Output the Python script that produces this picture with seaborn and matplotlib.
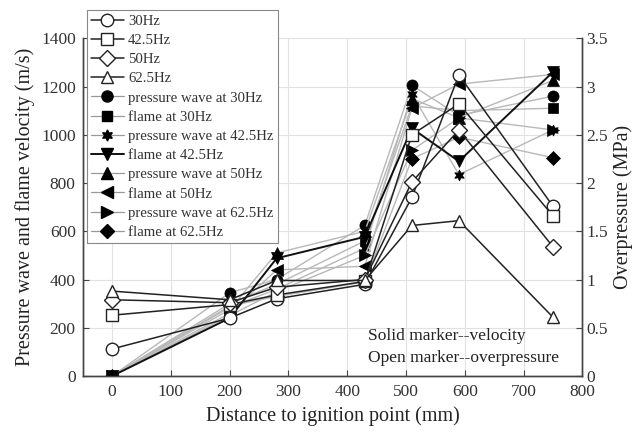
import seaborn as sns
import matplotlib.pyplot as plt
from matplotlib.lines import Line2D
from matplotlib.ticker import FormatStrFormatter

# distance to ignition point (mm)
distance = [0, 200, 280, 430, 510, 590, 750]

# overpressure (MPa) - open markers, right axis
op_30 = [0.28, 0.60, 0.80, 0.95, 1.85, 3.12, 1.76]
op_42 = [0.63, 0.74, 0.84, 0.98, 2.50, 2.82, 1.66]
op_50 = [0.79, 0.76, 0.92, 1.00, 2.01, 2.55, 1.34]
op_62 = [0.88, 0.79, 0.99, 0.99, 1.56, 1.61, 0.61]

# velocity (m/s) - solid markers, left axis
pw_30 = [0, 345, 400, 625, 1205, 1080, 1160]
fl_30 = [0, 300, 380, 560, 1120, 1100, 1110]
pw_42 = [0, 285, 360, 530, 1170, 835, 1020]
fl_42 = [0, 240, 488, 577, 1027, 890, 1260]
pw_50 = [0, 275, 510, 600, 1150, 1070, 1225]
fl_50 = [0, 260, 440, 455, 1110, 1210, 1250]
pw_62 = [0, 250, 350, 500, 935, 1070, 1020]
fl_62 = [0, 290, 330, 390, 900, 990, 905]

op_labels = ['30Hz', '42.5Hz', '50Hz', '62.5Hz']
vel_labels = ['pressure wave at 30Hz', 'flame at 30Hz',
              'pressure wave at 42.5Hz', 'flame at 42.5Hz',
              'pressure wave at 50Hz', 'flame at 50Hz',
              'pressure wave at 62.5Hz', 'flame at 62.5Hz']

HEX_STAR = (6, 1, 0)


def main() -> None:
    sns.set_theme(style='white')
    plt.rcParams['font.family'] = ['Liberation Serif', 'DejaVu Serif']

    fig = plt.figure(figsize=(6.34, 4.36), dpi=100)
    ax = fig.add_axes([0.1304, 0.1376, 0.7881, 0.7746])
    ax2 = ax.twinx()

    vel_series = [pw_30, fl_30, pw_42, fl_42, pw_50, fl_50, pw_62, fl_62]
    vel_markers = ['o', 's', HEX_STAR, 'v', '^', '<', '>', 'D']
    vel_sizes = [8, 7, 8, 8, 8, 8, 8, 7]
    handles = []

    op_series = [op_30, op_42, op_50, op_62]
    op_markers = ['o', 's', 'D', '^']
    op_sizes = [9, 8, 8, 9]
    for vals, m, ms, lab in zip(op_series, op_markers, op_sizes, op_labels):
        sns.lineplot(x=distance, y=vals, ax=ax2, color='#222222', linewidth=1.1,
                     marker=m, markersize=ms, markerfacecolor='white',
                     markeredgecolor='#222222', markeredgewidth=1.0,
                     estimator=None, sort=False, zorder=2)
        handles.append(Line2D([], [], color='#222222', linewidth=1.1, marker=m,
                              markersize=ms, markerfacecolor='white',
                              markeredgecolor='#222222', label=lab))

    for vals, m, ms, lab in zip(vel_series, vel_markers, vel_sizes, vel_labels):
        black = lab == 'flame at 42.5Hz'
        col = '#111111' if black else '#b8b8b8'
        lw = 1.4 if black else 1.0
        sns.lineplot(x=distance, y=vals, ax=ax, color=col, linewidth=lw,
                     marker=m, markersize=ms, markerfacecolor='black',
                     markeredgecolor='black', markeredgewidth=0.5,
                     estimator=None, sort=False, zorder=3 if black else 2)
        handles.append(Line2D([], [], color='#111111' if black else '#999999',
                              linewidth=1.4 if black else 0.9, marker=m,
                              markersize=ms, markerfacecolor='black',
                              markeredgecolor='black', label=lab))

    ax.set_xlim(-50, 800)
    ax.set_ylim(0, 1400)
    ax2.set_ylim(0, 3.5)
    ax.set_xticks(range(0, 801, 100))
    ax.set_yticks(range(0, 1401, 200))
    ax2.set_yticks([i * 0.5 for i in range(8)])
    ax2.yaxis.set_major_formatter(FormatStrFormatter('%g'))

    ax.grid(True, color='#e2e2e2', linewidth=0.8)
    ax2.grid(False)
    ax.set_axisbelow(True)

    for a in (ax, ax2):
        a.spines['top'].set_visible(False)
        for s in ('left', 'right', 'bottom'):
            a.spines[s].set_color('#444444')
            a.spines[s].set_linewidth(1.0)
        a.tick_params(direction='in', length=4, width=0.8, colors='#444444',
                      labelcolor='#333333', labelsize=12.5)
    ax.tick_params(axis='y', left=True, right=False, pad=5)
    ax.tick_params(axis='x', bottom=True, pad=6)
    ax2.tick_params(axis='y', right=True, pad=3)

    ax.set_xlabel('Distance to ignition point (mm)', fontsize=14.5, color='#222222')
    ax.set_ylabel('Pressure wave and flame velocity (m/s)', fontsize=14.5, color='#222222')
    ax2.set_ylabel('Overpressure (MPa)', fontsize=14.5, color='#222222')
    ax2.yaxis.set_label_coords(1.062, 0.5)

    ax.text(0.571, 0.118, 'Solid marker--velocity', transform=ax.transAxes,
            fontsize=12.5, va='center', ha='left', color='#222222')
    ax.text(0.571, 0.053, 'Open marker--overpressure', transform=ax.transAxes,
            fontsize=12.5, va='center', ha='left', color='#222222')

    leg = ax2.legend(handles=handles, loc='upper left',
                     bbox_to_anchor=(0.137, 0.977), bbox_transform=fig.transFigure,
                     borderaxespad=0, fontsize=10.6, labelspacing=0.40,
                     handlelength=2.2, handletextpad=0.3, borderpad=0.3,
                     fancybox=False, framealpha=1, edgecolor='#888888')
    leg.get_frame().set_linewidth(0.8)
    for t in leg.get_texts():
        t.set_color('#333333')

    fig.savefig('out.png', dpi=100)


if __name__ == "__main__":
    main()
